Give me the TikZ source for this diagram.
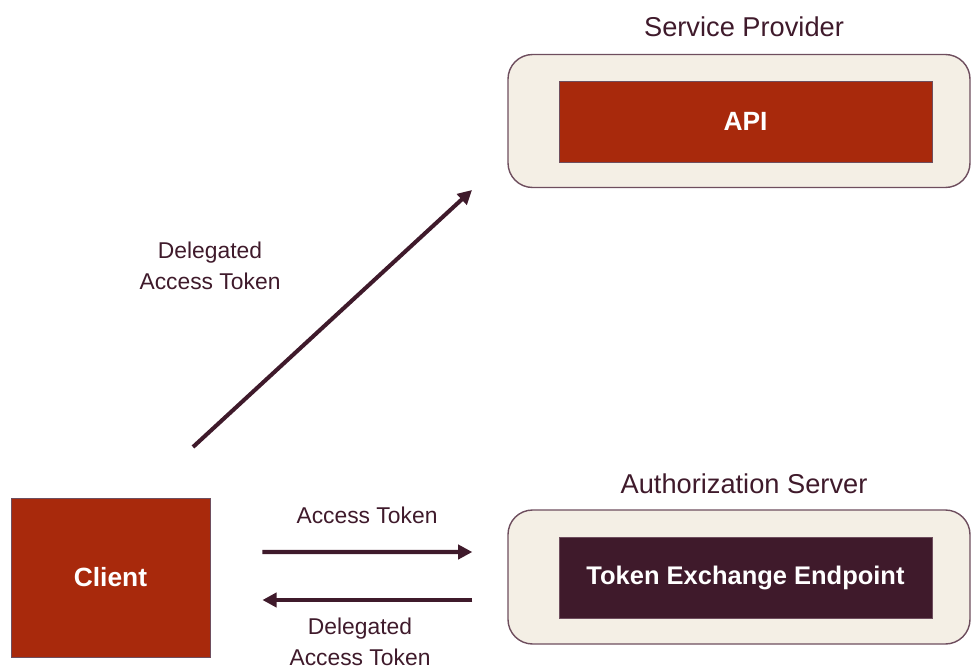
\documentclass[tikz,border=0pt]{standalone}
\usepackage{fontspec}
\setmainfont{Liberation Sans}
\usepackage{xcolor}
\usepackage{tikz}
\usetikzlibrary{arrows.meta, positioning, calc}

\definecolor{rustred}{HTML}{A8290C}
\definecolor{plumdark}{HTML}{3F1A2B}
\definecolor{creamfill}{HTML}{F4EFE5}
\definecolor{plumline}{HTML}{6E4E5E}

\begin{document}
\begin{tikzpicture}[
  group/.style={rectangle, rounded corners=14pt, draw=plumline, fill=creamfill,
                line width=0.8pt, minimum width=9.24cm, minimum height=2.66cm},
  redbox/.style={rectangle, draw=plumline, fill=rustred, text=white,
                 font=\bfseries\fontsize{15}{18}\selectfont, line width=0.5pt},
  darkbox/.style={rectangle, draw=plumline, fill=plumdark, text=white,
                  font=\bfseries\fontsize{14.5}{18}\selectfont, line width=0.5pt},
  title/.style={text=plumdark, font=\fontsize{15.5}{18}\selectfont},
  lbl/.style={text=plumdark, align=center, font=\fontsize{13}{17.5}\selectfont},
  arrow/.style={-{Triangle[length=8pt, width=8pt]}, line width=2.3pt, draw=plumdark},
]
\useasboundingbox (0,0) rectangle (19.42,-13.36);
% service provider
\node[group] (sp) at (14.78, -2.42) {};
\node[redbox, minimum width=7.46cm, minimum height=1.62cm] (api) at (14.91, -2.43) {API};
\node[title] (sptitle) at (14.88, -0.54) {Service Provider};
% authorization server
\node[group, minimum height=2.68cm] (as) at (14.78, -11.54) {};
\node[darkbox, minimum width=7.46cm, minimum height=1.62cm] (tee) at (14.91, -11.55) {Token Exchange Endpoint};
\node[title] (astitle) at (14.88, -9.68) {Authorization Server};
% client
\node[redbox, minimum width=3.98cm, minimum height=3.18cm] (client) at (2.21, -11.55) {Client};
% connectors
\coordinate (dstart) at (3.86, -8.94);
\coordinate (dend)   at (9.44, -3.80);
\draw[arrow] (dstart) -- (dend);
\node[lbl] (dlbl) at (4.2, -5.32) {Delegated\\Access Token};
\draw[arrow, shorten <=1.04cm, shorten >=0.7cm]
  ([yshift=0.51cm]client.east) -- ([yshift=0.50cm]as.west);
\node[lbl] (atlbl) at (7.34, -10.3) {Access Token};
\draw[arrow, shorten <=0.7cm, shorten >=1.04cm]
  ([yshift=-0.46cm]as.west) -- ([yshift=-0.45cm]client.east);
\node[lbl] (dalbl) at (7.2, -12.84) {Delegated\\Access Token};
\end{tikzpicture}
\end{document}
